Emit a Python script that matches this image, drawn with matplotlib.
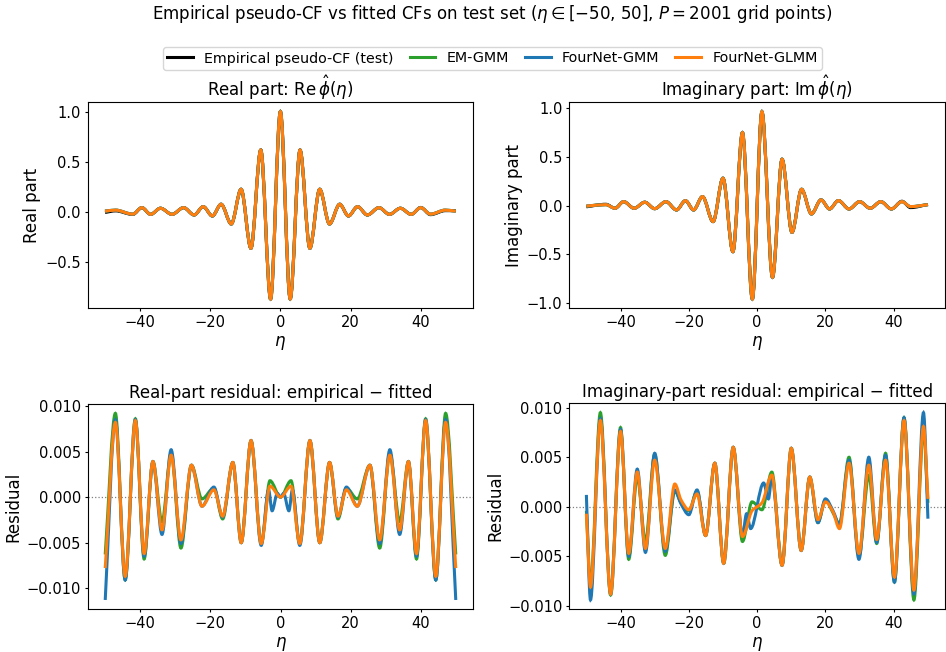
import numpy as np
import matplotlib
matplotlib.use('Agg')
import matplotlib.pyplot as plt
from matplotlib.path import Path
from matplotlib.patches import PathPatch
from matplotlib.lines import Line2D

# ---- values (local extrema of each curve) ----
# top left: real part of the pseudo-CF
eta_re = [-50, -47, -42.1, -39.5, -37.0, -34.2, -30.9, -27.6, -24.6, -22.0, -19.4, -16.9,
          -14.0, -11.2, -8.4, -5.6, -2.8, 0, 2.8, 5.6, 8.4, 11.2, 14.0, 16.9, 19.4, 22.0,
          24.8, 28.1, 31.1, 34.2, 37.3, 40.0, 42.8, 47, 50]
re_emp = [-0.008, 0.008, -0.028, 0.04, -0.027, 0.034, -0.027, 0.04, -0.033, 0.05, -0.043, 0.074,
          -0.123, 0.224, -0.366, 0.617, -0.873, 1.0, -0.873, 0.617, -0.366, 0.224, -0.123, 0.074,
          -0.043, 0.05, -0.033, 0.04, -0.027, 0.034, -0.027, 0.042, -0.03, 0.01, 0.01]
# the three fitted models agree to < 0.01 here, same values for all of them
re_fit = [0.005, 0.015, -0.025, 0.04, -0.027, 0.034, -0.027, 0.04, -0.033, 0.05, -0.043, 0.074,
          -0.123, 0.224, -0.366, 0.617, -0.873, 1.0, -0.873, 0.617, -0.366, 0.224, -0.123, 0.074,
          -0.043, 0.05, -0.033, 0.04, -0.027, 0.034, -0.027, 0.04, -0.025, 0.015, 0.005]

# top right: imaginary part
eta_im = [-50, -44.3, -41.6, -39.1, -36.0, -32.9, -30.0, -26.7, -23.6, -21.0, -18.6, -16.0,
          -12.9, -10.0, -7.1, -4.3, -1.4, 1.4, 4.5, 7.3, 10.2, 13.0, 15.9, 18.7, 21.2, 23.8,
          26.9, 30.0, 33.1, 36.2, 39.3, 42.4, 44.9, 50]
im_emp = [-0.012, 0.014, -0.027, 0.041, -0.027, 0.035, -0.031, 0.041, -0.044, 0.051, -0.044, 0.093,
          -0.164, 0.282, -0.473, 0.75, -0.959, 0.966, -0.736, 0.477, -0.274, 0.168, -0.085, 0.059,
          -0.034, 0.052, -0.034, 0.041, -0.027, 0.041, -0.034, 0.045, -0.02, 0.012]
im_fit = [-0.005, 0.01, -0.027, 0.041, -0.027, 0.035, -0.031, 0.041, -0.044, 0.051, -0.044, 0.093,
          -0.164, 0.282, -0.473, 0.75, -0.959, 0.966, -0.736, 0.477, -0.274, 0.168, -0.085, 0.059,
          -0.034, 0.052, -0.034, 0.041, -0.027, 0.041, -0.034, 0.041, -0.01, 0.01]

# bottom left: real-part residuals
eta_rr = [-50, -47.1, -44.3, -41.4, -38.9, -36.4, -33.8, -31.2, -28.4, -25.4, -22.4, -19.0,
          -16.5, -13.6, -11.2, -8.4, -5.5, -3.0, 0, 3.0, 5.5, 8.4, 11.2, 14.0, 16.4, 18.8,
          21.9, 25.5, 28.3, 31.2, 34.0, 36.5, 38.8, 41.4, 44.3, 47.1, 50]
rr_em = [-0.0063, 0.0092, -0.0091, 0.0086, -0.0068, 0.0039, -0.0027, 0.0048, -0.0056, 0.0035, -0.0002, 0.0010,
         -0.0024, 0.0038, -0.0050, 0.0062, -0.0051, 0.0018, 0.0000, 0.0018, -0.0051, 0.0062, -0.0050, 0.0038,
         -0.0024, 0.0010, -0.0002, 0.0035, -0.0056, 0.0048, -0.0027, 0.0039, -0.0068, 0.0086, -0.0091,
         0.0092, -0.0063]
rr_glmm = [-0.0078, 0.0082, -0.0087, 0.0084, -0.0062, 0.0039, -0.0036, 0.0046, -0.0047, 0.0035, -0.0010, 0.0008,
           -0.0021, 0.0038, -0.0050, 0.0062, -0.0051, 0.0012, 0.0000, 0.0012, -0.0051, 0.0062, -0.0050, 0.0038,
           -0.0021, 0.0008, -0.0010, 0.0035, -0.0047, 0.0046, -0.0036, 0.0039, -0.0062, 0.0084, -0.0087,
           0.0082, -0.0078]
# FourNet-GMM has two extra wiggles near eta = 0
eta_rr_gmm = [-50, -47.1, -44.3, -41.4, -38.9, -36.4, -33.8, -31.2, -28.4, -25.4, -22.4, -19.0,
              -16.5, -13.6, -11.2, -8.4, -5.5, -3.4, -2.4, -0.9, 0, 0.9, 2.4, 3.4, 5.5, 8.4, 11.2,
              14.0, 16.4, 18.8, 21.9, 25.5, 28.3, 31.2, 34.0, 36.5, 38.8, 41.4, 44.3, 47.1, 50]
rr_gmm = [-0.0113, 0.0085, -0.0091, 0.0085, -0.0065, 0.0039, -0.0041, 0.0052, -0.0051, 0.0035, -0.0010, 0.0011,
          -0.0022, 0.0038, -0.0050, 0.0062, -0.0053, 0.0008, -0.0015, 0.0004, 0.0000, 0.0004, -0.0015, 0.0008,
          -0.0053, 0.0062, -0.0050, 0.0038, -0.0022, 0.0011, -0.0010, 0.0035, -0.0051, 0.0052, -0.0041,
          0.0039, -0.0065, 0.0085, -0.0091, 0.0085, -0.0113]

# bottom right: imaginary-part residuals
eta_ir = [-50, -48.8, -45.9, -42.9, -40.0, -37.6, -35.1, -32.7, -30.0, -26.9, -24.1, -22.3, -20.0,
          -17.6, -15.1, -12.4, -9.8, -7.0, -4.3, -1.5, 1.4, 4.3, 7.3, 10.0, 12.9, 15.4, 17.8,
          20.0, 22.2, 24.1, 26.9, 29.8, 32.7, 35.0, 37.6, 40.2, 43.0, 45.9, 48.7, 50]
ir_em = [-0.0004, -0.0078, 0.0095, -0.0089, 0.0080, -0.0053, 0.0030, -0.0035, 0.0053, -0.0049, 0.0016, 0.0004,
         -0.0004, 0.0016, -0.0029, 0.0044, -0.0057, 0.0060, -0.0035, 0.0005, -0.0003, 0.0035, -0.0059, 0.0059,
         -0.0044, 0.0030, -0.0016, 0.0007, -0.0006, -0.0017, 0.0050, -0.0050, 0.0032, -0.0037, 0.0054,
         -0.0076, 0.0090, -0.0094, 0.0077, 0.0004]
ir_glmm = [-0.0007, -0.0081, 0.0087, -0.0088, 0.0076, -0.0047, 0.0035, -0.0042, 0.0047, -0.0042, 0.0023, 0.0007,
           -0.0003, 0.0013, -0.0029, 0.0044, -0.0057, 0.0060, -0.0030, -0.0004, 0.0004, 0.0032, -0.0059, 0.0059,
           -0.0044, 0.0030, -0.0013, 0.0005, -0.0005, -0.0022, 0.0044, -0.0047, 0.0042, -0.0033, 0.0047,
           -0.0071, 0.0087, -0.0084, 0.0081, 0.0008]
eta_ir_gmm = [-50, -48.8, -45.9, -42.9, -40.0, -37.6, -35.1, -32.7, -30.0, -26.9, -24.1, -22.3, -20.0,
              -17.6, -15.1, -12.4, -9.8, -7.0, -4.3, -3.1, -1.9, 1.9, 3.3, 4.3, 7.3, 10.0, 12.9, 15.4,
              17.8, 20.0, 22.2, 24.1, 26.9, 29.8, 32.7, 35.0, 37.6, 40.2, 43.0, 45.9, 48.7, 50]
ir_gmm = [0.0012, -0.0094, 0.0089, -0.0088, 0.0078, -0.0050, 0.0038, -0.0046, 0.0054, -0.0045, 0.0017, 0.0003,
          -0.0008, 0.0017, -0.0029, 0.0044, -0.0057, 0.0060, -0.0029, -0.0007, -0.0022, 0.0024, 0.0008, 0.0030,
          -0.0059, 0.0059, -0.0044, 0.0030, -0.0016, 0.0008, -0.0004, -0.0018, 0.0047, -0.0053, 0.0050,
          -0.0036, 0.0052, -0.0076, 0.0090, -0.0088, 0.0095, -0.0012]

labels = ['Empirical pseudo-CF (test)', 'EM-GMM', 'FourNet-GMM', 'FourNet-GLMM']
colors = ['black', '#2ca02c', '#1f77b4', '#ff7f0e']
LW = 2.2


def smooth_path(x, y):
	"""Bezier path through the points, monotone (pchip-like) tangents."""
	x = np.asarray(x, float)
	y = np.asarray(y, float)
	h = np.diff(x)
	d = np.diff(y) / h
	m = np.zeros_like(y)
	for i in range(1, len(x) - 1):
		if d[i - 1] * d[i] > 0:
			w1 = 2 * h[i] + h[i - 1]
			w2 = h[i] + 2 * h[i - 1]
			m[i] = (w1 + w2) / (w1 / d[i - 1] + w2 / d[i])
	m[0] = d[0] if d[0] * d[min(1, len(d) - 1)] <= 0 else 0.5 * d[0]
	m[-1] = d[-1] if d[-1] * d[max(-2, -len(d))] <= 0 else 0.5 * d[-1]
	verts = [(x[0], y[0])]
	codes = [Path.MOVETO]
	for i in range(len(h)):
		verts += [(x[i] + h[i] / 3, y[i] + m[i] * h[i] / 3),
		          (x[i + 1] - h[i] / 3, y[i + 1] - m[i + 1] * h[i] / 3),
		          (x[i + 1], y[i + 1])]
		codes += [Path.CURVE4] * 3
	return Path(verts, codes)


def draw(ax, x, y, color):
	ax.add_patch(PathPatch(smooth_path(x, y), fill=False, edgecolor=color, lw=LW, zorder=2))


fig = plt.figure(figsize=(9.46, 6.52), dpi=100)
W, H = 946, 652


def axes_px(l, r, t, b):
	return fig.add_axes([l / W, 1 - b / H, (r - l) / W, (b - t) / H])


ax_re = axes_px(87.5, 473.3, 102.3, 308.3)
ax_im = axes_px(569.3, 945, 102.3, 308.3)
ax_rr = axes_px(87.7, 473.3, 404, 609.3)
ax_ir = axes_px(569.3, 945, 403.3, 609.3)

# top row: empirical in black, then the three fits (orange ends on top)
draw(ax_re, eta_re, re_emp, colors[0])
for c in colors[1:]:
	draw(ax_re, eta_re, re_fit, c)
draw(ax_im, eta_im, im_emp, colors[0])
for c in colors[1:]:
	draw(ax_im, eta_im, im_fit, c)

# bottom row: residuals
draw(ax_rr, eta_rr, rr_em, colors[1])
draw(ax_rr, eta_rr_gmm, rr_gmm, colors[2])
draw(ax_rr, eta_rr, rr_glmm, colors[3])
draw(ax_ir, eta_ir, ir_em, colors[1])
draw(ax_ir, eta_ir_gmm, ir_gmm, colors[2])
draw(ax_ir, eta_ir, ir_glmm, colors[3])

for ax in [ax_rr, ax_ir]:
	ax.axhline(0, color='gray', lw=0.9, ls=':', zorder=1)

for ax in [ax_re, ax_im, ax_rr, ax_ir]:
	ax.autoscale_view()
	ax.set_xlabel(r'$\eta$', fontsize=12, labelpad=2.9)
	ax.tick_params(labelsize=10.5, length=2.5, pad=2.5)

TP = 4.3
ax_re.set_title(r'Real part: $\mathrm{Re}\,\hat{\phi}(\eta)$', fontsize=12, pad=TP)
ax_im.set_title(r'Imaginary part: $\mathrm{Im}\,\hat{\phi}(\eta)$', fontsize=12, pad=TP)
ax_rr.set_title('Real-part residual: empirical \u2212 fitted', fontsize=12, pad=TP)
ax_ir.set_title('Imaginary-part residual: empirical \u2212 fitted', fontsize=12, pad=TP)
ax_re.set_ylabel('Real part', fontsize=12, labelpad=2.9)
ax_im.set_ylabel('Imaginary part', fontsize=12, labelpad=2.9)
ax_rr.set_ylabel('Residual', fontsize=12, labelpad=2.9)
ax_ir.set_ylabel('Residual', fontsize=12, labelpad=2.9)

handles = [Line2D([], [], color=c, lw=LW) for c in colors]
fig.legend(handles, labels, loc='center', ncol=4, fontsize=10.3,
           handlelength=1.8, columnspacing=1.1, borderpad=0.3,
           bbox_to_anchor=(492.5 / W, 1 - 58.5 / H))
fig.suptitle(r'Empirical pseudo-CF vs fitted CFs on test set ($\eta\in[-50$, $50]$, $P = 2001$ grid points)',
             x=492.5 / W, y=1 - 14 / H, va='center', fontsize=12)

fig.savefig('out.png', dpi=100)
